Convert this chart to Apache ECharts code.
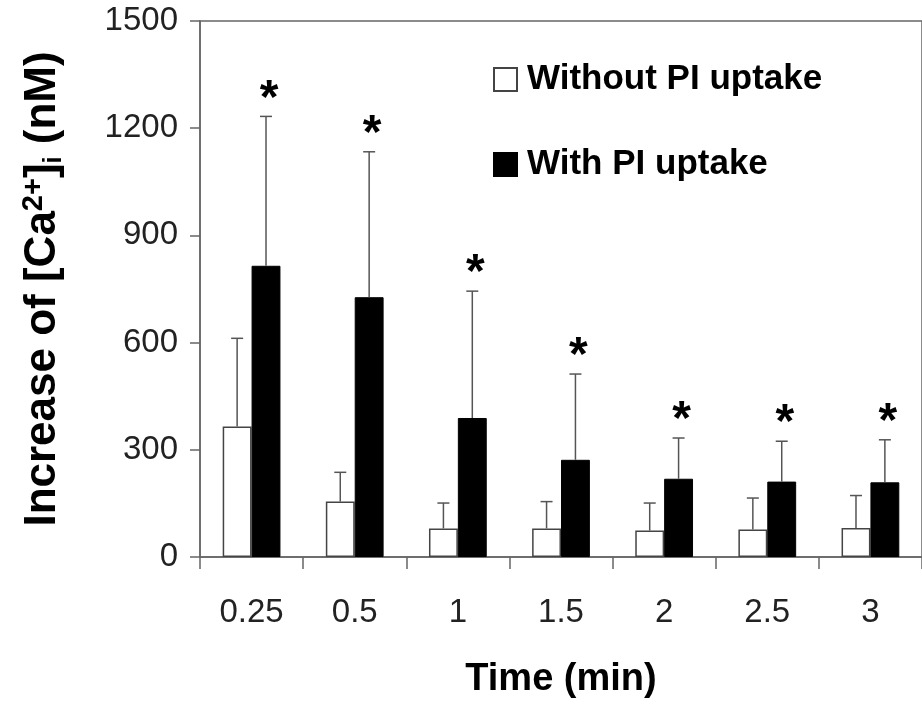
<!DOCTYPE html>
<html>
<head>
<meta charset="utf-8">
<script src="https://cdn.jsdelivr.net/npm/echarts@6/dist/echarts.min.js"></script>
<style>html,body{margin:0;padding:0;background:#fff}#c{width:922px;height:706px}</style>
</head>
<body>
<div id="c"></div>
<script>
var categories = ['0.25', '0.5', '1', '1.5', '2', '2.5', '3'];
var withoutMean = [365, 155, 80, 80, 74, 77, 81];
var withoutErr = [247, 82, 71, 75, 77, 88, 91];
var withMean = [815, 727, 389, 272, 219, 211, 209];
var withErr = [418, 407, 355, 240, 114, 113, 119];
var yTicks = [0, 300, 600, 900, 1200, 1500];

var FONT = "'Liberation Sans', Arial, sans-serif";

function errData(mean, err) {
  return mean.map(function (m, i) { return [i, m, err[i]]; });
}

function makeErr(sign, star) {
  return function (params, api) {
    var x = api.value(0), m = api.value(1), e = api.value(2);
    var base = api.coord([x, m]);
    var top = api.coord([x, m + e]);
    var band = api.size([1, 0])[0];
    var cx = base[0] + sign * band * 0.14;
    var cap = 6;
    var st = { stroke: '#555', lineWidth: 1.5 };
    var children = [
      { type: 'line', shape: { x1: cx, y1: base[1], x2: cx, y2: top[1] }, style: st },
      { type: 'line', shape: { x1: cx - cap, y1: top[1], x2: cx + cap, y2: top[1] }, style: st }
    ];
    if (star) {
      children.push({
        type: 'text',
        style: {
          text: '*', x: cx + 3, y: top[1] - 17,
          align: 'center', verticalAlign: 'middle',
          font: 'bold 48px ' + FONT, fill: '#000'
        }
      });
    }
    return { type: 'group', children: children };
  };
}

var chart = echarts.init(document.getElementById('c'), null, { renderer: 'canvas' });
chart.setOption({
  animation: false,
  backgroundColor: '#fff',
  grid: { left: 200, top: 21, width: 732, height: 536, show: true, borderColor: '#666', borderWidth: 1.5, backgroundColor: 'transparent' },
  legend: [
    {
      data: ['Without PI uptake'], left: 488, top: 57, orient: 'vertical',
      itemWidth: 23, itemHeight: 23, icon: 'rect',
      textStyle: { fontFamily: FONT, fontWeight: 'bold', fontSize: 35, color: '#000', padding: [0, 0, 0, 5] }
    },
    {
      data: ['With PI uptake'], left: 488, top: 142, orient: 'vertical',
      itemWidth: 23, itemHeight: 23, icon: 'rect',
      textStyle: { fontFamily: FONT, fontWeight: 'bold', fontSize: 35, color: '#000', padding: [0, 0, 0, 5] }
    }
  ],
  xAxis: {
    type: 'category',
    data: categories,
    name: 'Time (min)',
    nameLocation: 'middle',
    nameGap: 104,
    nameTextStyle: { fontFamily: FONT, fontWeight: 'bold', fontSize: 38, color: '#000' },
    axisLine: { lineStyle: { color: '#666', width: 1.5 } },
    axisTick: { show: true, length: 12, lineStyle: { color: '#666', width: 1.5 } },
    axisLabel: { fontFamily: FONT, fontSize: 33, color: '#222', margin: 39 }
  },
  yAxis: {
    type: 'value',
    min: yTicks[0], max: yTicks[yTicks.length - 1], interval: 300,
    name: 'Increase of [Ca{sup|2+}]{sub|i} (nM)',
    nameLocation: 'middle',
    nameRotate: 90,
    nameGap: 133,
    nameTextStyle: {
      fontFamily: FONT, fontWeight: 'bold', fontSize: 44, color: '#000',
      rich: {
        sup: { fontFamily: FONT, fontWeight: 'bold', fontSize: 29, color: '#000', verticalAlign: 'top', padding: [0, 0, 19, 0] },
        sub: { fontFamily: FONT, fontWeight: 'bold', fontSize: 25, color: '#000', verticalAlign: 'bottom', padding: [8, 0, 0, 0] }
      }
    },
    splitLine: { show: false },
    axisLine: { show: true, lineStyle: { color: '#666', width: 1.5 } },
    axisTick: { show: true, length: 10, lineStyle: { color: '#666', width: 1.5 } },
    axisLabel: {
      fontFamily: FONT, fontSize: 33, color: '#222', margin: 22,
      formatter: function (v) { return String(v); }
    }
  },
  series: [
    {
      name: 'Without PI uptake', type: 'bar', data: withoutMean,
      barWidth: '28%', barGap: '0%',
      itemStyle: { color: '#fff', borderColor: '#444', borderWidth: 1.5 }
    },
    {
      name: 'With PI uptake', type: 'bar', data: withMean,
      barWidth: '28%', barGap: '0%',
      itemStyle: { color: '#000', borderColor: '#000', borderWidth: 1 }
    },
    {
      type: 'custom', data: errData(withoutMean, withoutErr),
      renderItem: makeErr(-1, false), z: 5, silent: true
    },
    {
      type: 'custom', data: errData(withMean, withErr),
      renderItem: makeErr(1, true), z: 5, silent: true
    }
  ]
});
</script>
</body>
</html>
